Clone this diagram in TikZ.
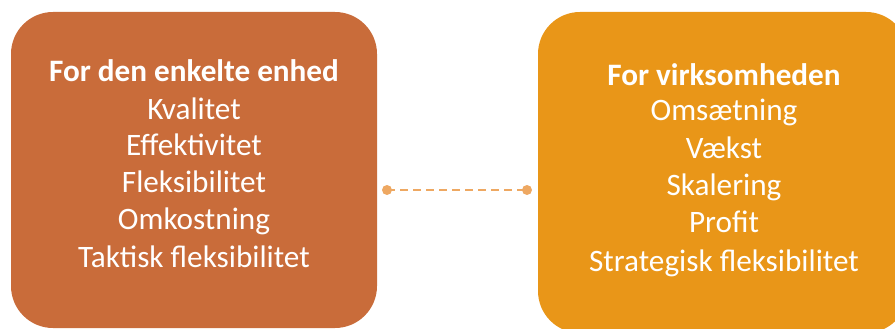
\documentclass[tikz,border=0pt]{standalone}
\usepackage{fontspec}
\setmainfont{Carlito}
\definecolor{leftc}{RGB}{201,108,58}
\definecolor{rightc}{RGB}{233,150,24}
\definecolor{linkc}{RGB}{238,168,98}
\begin{document}
\begin{tikzpicture}[x=1pt,y=-1pt,
  box/.style={draw=none,rounded corners=42pt},
  txt/.style={text=white,font=\fontsize{31.2}{37}\selectfont,anchor=base,inner sep=0pt},
  dot/.style={circle,fill=linkc,draw=none,minimum size=10pt,inner sep=0pt},
  link/.style={draw=linkc,line width=2.2pt,dash pattern=on 8pt off 5pt}]
\useasboundingbox (0,0) rectangle (895,329);
\clip (0,0) rectangle (895,329);
\fill[box,fill=leftc] (11,12) rectangle (377,328);
\fill[box,fill=rightc] (538,12) rectangle (908,333);
\node[txt] (lt) at (194,81.7) {\textbf{For den enkelte enhed}};
\node[txt] (l1) at (194,119) {Kvalitet};
\node[txt] (l2) at (194,155.7) {Effektivitet};
\node[txt] (l3) at (194,192.7) {Fleksibilitet};
\node[txt] (l4) at (194,229.3) {Omkostning};
\node[txt] (l5) at (194,267.7) {Taktisk fleksibilitet};
\node[txt] (rt) at (724,85) {\textbf{For virksomheden}};
\node[txt] (r1) at (724,120.7) {Omsætning};
\node[txt] (r2) at (724,158.3) {Vækst};
\node[txt] (r3) at (724,195.7) {Skalering};
\node[txt] (r4) at (724,232.3) {Profit};
\node[txt] (r5) at (724,271.7) {Strategisk fleksibilitet};
\node[dot] (a) at (387,190) {};
\node[dot] (b) at (527,190) {};
\draw[link] (a.center) -- (b.center);
\end{tikzpicture}
\end{document}
